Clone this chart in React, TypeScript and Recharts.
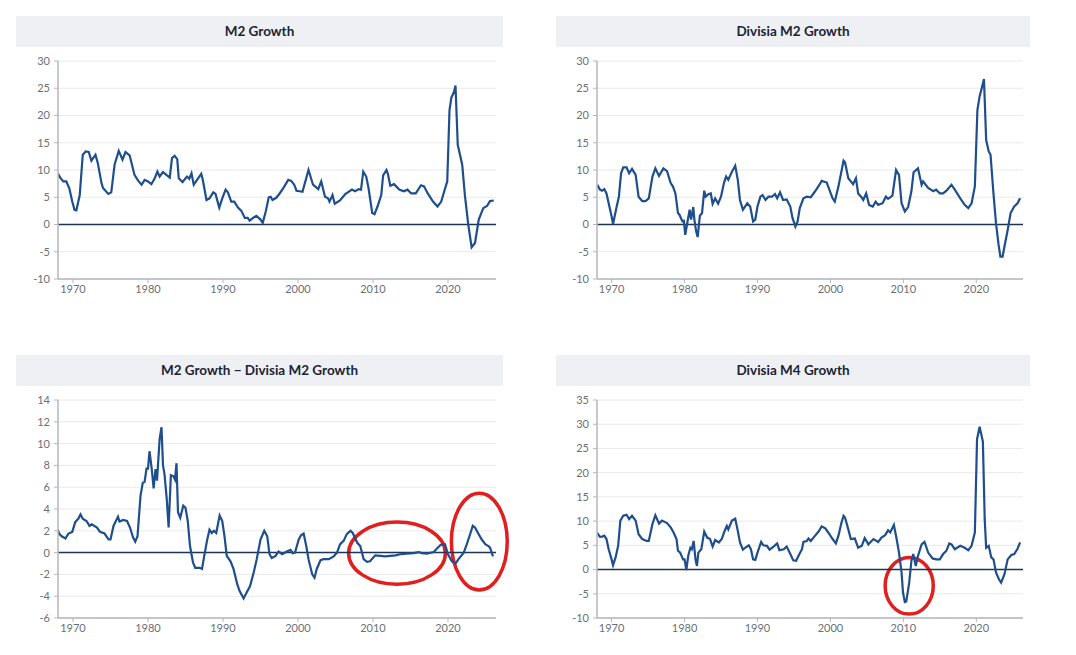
// Four small panels: M2 vs Divisia money growth, with hand-drawn style red circles.

import {
  LineChart,
  Line,
  XAxis,
  YAxis,
  CartesianGrid,
  ReferenceLine,
  ReferenceArea,
} from "recharts";

const decadeTicks = [1970, 1980, 1990, 2000, 2010, 2020];
const growthTicks = [-10, -5, 0, 5, 10, 15, 20, 25, 30];
const spreadTicks = [-6, -4, -2, 0, 2, 4, 6, 8, 10, 12, 14];
const m4Ticks = [-10, -5, 0, 5, 10, 15, 20, 25, 30, 35];

const m2Years = [
  1968.0, 1968.3, 1968.7, 1969.1, 1969.5, 1969.9, 1970.2, 1970.45, 1970.9, 1971.3,
  1971.7, 1972.1, 1972.45, 1973.0, 1973.3, 1973.8, 1974.0, 1974.7, 1975.1, 1975.55,
  1976.1, 1976.6, 1977.0, 1977.55, 1978.2, 1978.7, 1979.15, 1979.55, 1980.0, 1980.45,
  1980.9, 1981.25, 1981.55, 1982.0, 1982.9, 1983.2, 1983.55, 1983.9, 1984.1, 1984.6,
  1985.2, 1985.5, 1985.8, 1986.1, 1986.7, 1987.1, 1987.3, 1987.8, 1988.2, 1988.7,
  1989.0, 1989.5, 1989.9, 1990.35, 1990.65, 1991.1, 1991.5, 1992.0, 1992.45, 1992.9,
  1993.3, 1993.55, 1994.0, 1994.45, 1995.0, 1995.3, 1995.7, 1996.1, 1996.35, 1996.6,
  1997.1, 1997.5, 1998.0, 1998.7, 1999.1, 1999.5, 1999.8, 2000.2, 2000.6, 2001.4,
  2002.0, 2002.7, 2003.1, 2003.6, 2004.0, 2004.2, 2004.6, 2004.9, 2005.6, 2006.3,
  2007.2, 2007.6, 2008.1, 2008.4, 2008.7, 2009.1, 2009.4, 2009.9, 2010.2, 2010.6,
  2011.1, 2011.35, 2011.8, 2012.0, 2012.3, 2012.8, 2013.5, 2014.1, 2014.6, 2015.1,
  2015.7, 2016.4, 2016.8, 2017.3, 2018.0, 2018.6, 2019.1, 2019.5, 2019.9, 2020.2,
  2020.45, 2020.8, 2021.0, 2021.3, 2021.6, 2021.9, 2022.25, 2022.7, 2023.15, 2023.6,
  2024.1, 2024.7, 2025.2, 2025.6, 2026.1,
];
const m2Values = [
  9.3, 8.6, 7.9, 7.9, 6.7, 4.2, 2.7, 2.6, 5.4, 12.8,
  13.4, 13.3, 11.7, 12.8, 11.3, 7.6, 6.7, 5.6, 5.9, 11,
  13.5, 11.9, 13.3, 12.7, 9.1, 8.0, 7.3, 8.2, 7.9, 7.4,
  8.5, 9.7, 8.8, 9.6, 8.6, 12.2, 12.6, 12, 8.5, 7.8,
  8.8, 8.4, 9.4, 7.3, 8.5, 9.3, 8.2, 4.5, 4.8, 5.9,
  5.6, 3.1, 4.8, 6.4, 5.9, 4.2, 4.2, 3.1, 2.5, 1.2,
  1.2, 0.7, 1.2, 1.6, 0.9, 0.3, 2.4, 5.0, 5.1, 4.5,
  4.9, 5.6, 6.6, 8.2, 8.0, 7.3, 6.2, 6.1, 6.0, 10,
  7.3, 6.5, 7.9, 5.1, 4.8, 4.2, 5.4, 3.8, 4.4, 5.6,
  6.4, 6.1, 6.5, 6.4, 9.7, 8.8, 6.7, 2.1, 1.9, 3.3,
  5.4, 9.0, 10, 9.2, 7.1, 7.4, 6.4, 6.1, 6.4, 5.7,
  5.7, 7.2, 7.0, 5.7, 4.2, 3.3, 4.2, 6.1, 7.9, 21,
  23.3, 24.3, 25.5, 14.6, 12.8, 10.9, 5.4, 0, -4.2, -3.4,
  0.9, 3.0, 3.4, 4.3, 4.4,
];

const divisiaM2Years = [
  1968.04, 1968.4, 1968.7, 1969.0, 1969.3, 1969.6, 1970.0, 1970.2, 1970.7, 1971.0,
  1971.3, 1971.6, 1972.05, 1972.4, 1972.8, 1973.3, 1973.7, 1974.2, 1974.65, 1975.1,
  1975.6, 1976.0, 1976.5, 1977.1, 1977.6, 1978.1, 1978.4, 1978.75, 1979.1, 1979.3,
  1979.7, 1979.9, 1980.1, 1980.35, 1980.7, 1980.9, 1981.2, 1981.35, 1981.6, 1981.8,
  1982.1, 1982.4, 1982.7, 1982.9, 1983.3, 1983.6, 1983.85, 1984.2, 1984.6, 1985.0,
  1985.4, 1985.7, 1986.0, 1986.5, 1986.95, 1987.3, 1987.6, 1988.0, 1988.3, 1988.6,
  1989.0, 1989.4, 1989.7, 1990.0, 1990.4, 1990.7, 1991.1, 1991.5, 1992.0, 1992.4,
  1992.7, 1993.1, 1993.5, 1994.0, 1994.5, 1994.8, 1995.2, 1995.5, 1995.8, 1996.3,
  1996.75, 1997.3, 1997.9, 1998.5, 1998.8, 1999.5, 1999.85, 2000.3, 2000.6, 2001.1,
  2001.8, 2002.0, 2002.45, 2002.8, 2003.1, 2003.5, 2003.8, 2004.2, 2004.5, 2004.9,
  2005.3, 2005.8, 2006.2, 2006.55, 2007.15, 2007.6, 2007.9, 2008.5, 2009.0, 2009.4,
  2009.75, 2010.2, 2010.65, 2011.1, 2011.4, 2012.0, 2012.5, 2012.7, 2013.4, 2014.1,
  2014.5, 2015.0, 2015.45, 2015.9, 2016.6, 2017.05, 2017.8, 2018.4, 2018.9, 2019.35,
  2019.8, 2020.15, 2020.45, 2020.8, 2021.05, 2021.35, 2021.7, 2021.95, 2022.35, 2022.7,
  2023.05, 2023.3, 2023.6, 2023.95, 2024.3, 2024.7, 2025.2, 2025.65, 2026.0,
];
const divisiaM2Values = [
  7.3, 6.4, 6.2, 6.5, 5.7, 3.9, 1.5, 0.1, 3.3, 5.1,
  9.4, 10.5, 10.5, 9.4, 10.2, 9.1, 5.1, 4.3, 4.3, 4.8,
  8.8, 10.3, 8.9, 10.3, 9.8, 7.6, 7.0, 5.7, 2.1, 1.8,
  0.6, 0.7, -1.9, 0.1, 2.7, 0.9, 3.2, 0.9, -1.3, -2.3,
  1.6, 2.1, 6.2, 5.1, 5.6, 5.7, 3.8, 4.8, 3.8, 5.1,
  7.6, 8.8, 8.2, 9.7, 10.8, 8.2, 4.5, 2.7, 3.3, 3.9,
  3.3, 0.55, 0.9, 3.3, 5.1, 5.4, 4.5, 5.1, 5.1, 5.6,
  4.8, 5.9, 4.5, 4.6, 3.3, 1.2, -0.4, 0.55, 3.0, 4.8,
  5.1, 5.0, 6.1, 7.3, 8.0, 7.7, 6.4, 4.8, 4.2, 7.0,
  11.7, 11.4, 8.5, 7.9, 7.4, 8.5, 5.7, 5.1, 4.5, 5.7,
  3.6, 3.3, 4.2, 3.6, 3.9, 5.1, 4.7, 5.3, 10.0, 9.1,
  3.9, 2.4, 3.2, 6.1, 9.6, 10.3, 7.3, 7.9, 6.7, 6.1,
  6.4, 5.7, 5.7, 6.2, 7.3, 6.4, 4.8, 3.6, 3.0, 3.9,
  7.0, 21, 23.5, 25.3, 26.7, 15.5, 13.4, 12.8, 5.7, 0.2,
  -3.7, -5.9, -5.9, -3.4, -1.0, 2.1, 3.3, 3.9, 4.8,
];

const spreadYears = [
  1967.95, 1968.2, 1968.5, 1969.0, 1969.4, 1969.9, 1970.3, 1970.7, 1971.0, 1971.3,
  1971.8, 1972.2, 1972.5, 1973.2, 1973.6, 1974.2, 1974.75, 1975.0, 1975.4, 1976.0,
  1976.2, 1976.7, 1977.2, 1977.6, 1978.0, 1978.3, 1978.6, 1979.0, 1979.3, 1979.55,
  1979.8, 1980.0, 1980.2, 1980.5, 1980.75, 1981.0, 1981.2, 1981.55, 1981.8, 1982.0,
  1982.2, 1982.5, 1982.75, 1983.05, 1983.4, 1983.6, 1983.8, 1984.0, 1984.3, 1984.7,
  1985.0, 1985.3, 1985.6, 1986.0, 1986.3, 1986.9, 1987.2, 1987.5, 1987.9, 1988.2,
  1988.5, 1988.8, 1989.1, 1989.55, 1989.9, 1990.2, 1990.5, 1991.0, 1991.4, 1991.9,
  1992.2, 1992.75, 1993.2, 1993.6, 1994.1, 1994.5, 1995.0, 1995.5, 1995.9, 1996.2,
  1996.5, 1997.0, 1997.4, 1997.9, 1998.5, 1999.0, 1999.3, 1999.6, 2000.1, 2000.4,
  2000.75, 2001.1, 2001.4, 2001.9, 2002.2, 2002.5, 2003.0, 2003.4, 2004.1, 2004.75,
  2005.2, 2005.6, 2006.1, 2006.5, 2007.0, 2007.3, 2007.9, 2008.3, 2008.75, 2009.2,
  2009.6, 2010.3, 2011.0, 2011.6, 2012.3, 2013.0, 2013.6, 2014.5, 2015.4, 2016.1,
  2016.5, 2017.2, 2018.1, 2018.5, 2019.0, 2019.3, 2019.6, 2020.0, 2020.5, 2021.0,
  2021.4, 2022.1, 2022.5, 2023.0, 2023.3, 2023.6, 2024.0, 2024.5, 2025.0, 2025.4,
  2025.6, 2026.0,
];
const spreadValues = [
  2.1, 1.7, 1.5, 1.3, 1.75, 1.9, 2.8, 3.1, 3.5, 3.1,
  2.9, 2.45, 2.6, 2.3, 1.9, 1.75, 1.2, 1.2, 2.45, 3.3,
  2.85, 3.0, 2.9, 2.3, 1.4, 1.0, 1.5, 5.2, 6.4, 6.5,
  7.7, 7.7, 9.3, 7.65, 5.9, 7.65, 6.6, 10.4, 11.5, 8.0,
  7.2, 4.9, 2.3, 7.1, 7.0, 6.7, 8.2, 3.7, 3.2, 4.3,
  4.1, 2.9, 0.6, -0.9, -1.4, -1.4, -1.5, -0.3, 1.2, 2.1,
  1.8, 2.0, 1.8, 3.4, 2.9, 1.5, -0.3, -0.8, -1.5, -2.9,
  -3.5, -4.2, -3.6, -3.1, -1.8, -0.6, 1.2, 2.0, 1.5, -0.15,
  -0.5, -0.3, 0.1, -0.15, 0.1, 0.25, -0.05, 0, 1.2, 1.6,
  1.75, 0.6, -0.6, -2.0, -2.3, -1.5, -0.7, -0.6, -0.6, -0.35,
  0, 0.75, 1.1, 1.7, 2.0, 1.8, 0.9, 0.6, -0.6, -0.85,
  -0.8, -0.25, -0.3, -0.35, -0.3, -0.25, -0.15, -0.1, -0.05, 0.05,
  -0.05, -0.1, 0.05, 0.35, 0.7, 0.75, 0.75, -0.15, -0.8, -1.0,
  -0.6, 0, 0.75, 1.8, 2.45, 2.3, 1.8, 1.2, 0.75, 0.6,
  0.45, -0.35,
];

const divisiaM4Years = [
  1968.0, 1968.4, 1968.7, 1969.0, 1969.3, 1969.6, 1970.0, 1970.2, 1970.55, 1970.9,
  1971.2, 1971.6, 1972.05, 1972.4, 1972.8, 1973.3, 1973.7, 1974.2, 1974.8, 1975.1,
  1975.6, 1976.0, 1976.5, 1976.9, 1977.6, 1978.1, 1978.5, 1978.9, 1979.1, 1979.4,
  1979.8, 1980.0, 1980.25, 1980.5, 1980.8, 1981.0, 1981.25, 1981.5, 1981.7, 1981.9,
  1982.3, 1982.7, 1983.1, 1983.5, 1983.85, 1984.2, 1984.7, 1985.1, 1985.45, 1985.8,
  1986.0, 1986.5, 1986.95, 1987.3, 1987.6, 1988.0, 1988.3, 1988.8, 1989.1, 1989.4,
  1989.7, 1990.0, 1990.5, 1990.8, 1991.3, 1991.65, 1992.2, 1992.7, 1993.0, 1993.6,
  1994.0, 1994.5, 1994.9, 1995.3, 1995.75, 1996.1, 1996.3, 1996.75, 1997.0, 1997.3,
  1997.9, 1998.35, 1998.8, 1999.3, 1999.7, 2000.3, 2000.75, 2001.1, 2001.5, 2001.8,
  2002.0, 2002.45, 2002.8, 2003.35, 2003.8, 2004.3, 2004.7, 2005.2, 2005.9, 2006.55,
  2007.0, 2007.5, 2007.9, 2008.2, 2008.7, 2009.05, 2009.4, 2009.75, 2009.95, 2010.2,
  2010.4, 2010.8, 2011.1, 2011.35, 2011.7, 2012.0, 2012.5, 2012.9, 2013.4, 2014.0,
  2014.5, 2015.0, 2015.45, 2015.9, 2016.3, 2016.6, 2017.05, 2017.8, 2018.4, 2018.9,
  2019.35, 2019.8, 2020.1, 2020.45, 2020.9, 2021.15, 2021.35, 2021.7, 2022.05, 2022.35,
  2022.7, 2023.1, 2023.4, 2023.85, 2024.3, 2024.8, 2025.2, 2025.65, 2026.0,
];
const divisiaM4Values = [
  7.65, 6.75, 6.8, 7.0, 6.3, 4.2, 2.1, 0.9, 2.5, 4.9,
  10.1, 11.1, 11.3, 10.4, 11.1, 10.1, 7.3, 6.3, 5.9, 5.9,
  9.4, 11.2, 9.5, 10.1, 9.6, 8.7, 7.65, 6.3, 3.9, 3.5,
  2.1, 2.1, -0.1, 2.8, 4.5, 4.2, 5.9, 2.1, 0.75, 3.5,
  4.2, 7.85, 6.6, 6.3, 4.75, 6.1, 5.6, 6.3, 7.8, 9.0,
  8.3, 10.1, 10.5, 8.0, 5.6, 4.1, 4.5, 5.0, 4.2, 2.1,
  2.0, 3.5, 5.7, 5.0, 4.9, 4.1, 4.75, 5.4, 4.0, 4.2,
  4.75, 3.2, 1.9, 1.8, 3.2, 4.2, 5.7, 5.9, 6.4, 5.9,
  7.0, 7.8, 8.9, 8.5, 7.65, 6.3, 5.4, 7.0, 9.6, 11.1,
  10.75, 8.3, 6.3, 6.4, 4.5, 4.9, 6.5, 5.2, 6.3, 5.7,
  6.6, 7.1, 8.1, 7.65, 9.2, 6.5, 3.5, -0.6, -4.75, -6.7,
  -6.6, -2.7, 1.8, 3.2, 0.75, 2.8, 5.2, 5.7, 3.5, 2.3,
  2.1, 2.1, 3.2, 3.9, 5.4, 5.2, 4.2, 4.9, 4.5, 4.0,
  4.9, 7.65, 26.9, 29.5, 26.4, 10.4, 4.5, 4.9, 2.5, 2.1,
  -0.6, -2.0, -2.7, -1.0, 2.1, 3.0, 3.2, 4.3, 5.6,
];

// red annotation circles, in data units: [x1, x2, y1, y2]
const spreadCircles = [
  [2006.75, 2019.65, -2.9, 2.8],
  [2020.45, 2027.9, -3.43, 5.45],
];
const m4Circles = [[2007.5, 2014.1, -9.2, 2.5]];

const LINE = "#1f4e8d";
const FONT = "Lato, 'Open Sans', sans-serif";

function toPoints(years: number[], values: number[]) {
  return years.map((year, i) => ({ year, value: values[i] }));
}

function RedEllipse(props: any) {
  const { x, y, width, height } = props;
  return (
    <ellipse
      cx={x + width / 2}
      cy={y + height / 2}
      rx={Math.abs(width) / 2}
      ry={Math.abs(height) / 2}
      fill="none"
      stroke="#e01f1f"
      strokeWidth={3.5}
    />
  );
}

interface PanelProps {
  title: string;
  points: { year: number; value: number }[];
  yTicks: number[];
  circles?: number[][];
  left: number;
  top: number;
  barWidth: number;
  axisWidth: number;
  rightMargin: number;
}

function Panel({ title, points, yTicks, circles = [], left, top, barWidth, axisWidth, rightMargin }: PanelProps) {
  const tick = { fontSize: 11, fill: "#6b6f76", fontFamily: FONT };
  return (
    <>
      <div
        style={{
          position: "absolute",
          left,
          top,
          width: barWidth,
          height: 31,
          background: "#eef0f3",
          color: "#1b2435",
          fontFamily: FONT,
          fontWeight: 700,
          fontSize: 13.5,
          lineHeight: "31px",
          textAlign: "center",
        }}
      >
        {title}
      </div>
      <div style={{ position: "absolute", left, top: top + 31 }}>
        <LineChart
          width={510}
          height={255}
          data={points}
          margin={{ top: 14, right: rightMargin, bottom: 3, left: 0 }}
        >
          <CartesianGrid vertical={false} stroke="#e9eaec" />
          <XAxis
            dataKey="year"
            type="number"
            domain={[1968, 2026.4]}
            ticks={decadeTicks}
            allowDataOverflow
            tick={tick}
            tickSize={4}
            tickMargin={2}
            height={20}
            axisLine={{ stroke: "#b3b6bb", strokeWidth: 1.5 }}
            tickLine={{ stroke: "#b3b6bb" }}
          />
          <YAxis
            type="number"
            domain={[yTicks[0], yTicks[yTicks.length - 1]]}
            ticks={yTicks}
            interval={0}
            width={axisWidth}
            tick={tick}
            tickSize={4}
            tickMargin={4}
            axisLine={{ stroke: "#b3b6bb", strokeWidth: 1.5 }}
            tickLine={{ stroke: "#b3b6bb" }}
          />
          <ReferenceLine y={0} stroke="#1d3452" strokeWidth={1.5} />
          <Line
            type="linear"
            dataKey="value"
            stroke={LINE}
            strokeWidth={2.2}
            dot={false}
            isAnimationActive={false}
          />
          {circles.map((c, i) => (
            <ReferenceArea
              key={i}
              x1={c[0]}
              x2={c[1]}
              y1={c[2]}
              y2={c[3]}
              ifOverflow="visible"
              shape={<RedEllipse />}
            />
          ))}
        </LineChart>
      </div>
    </>
  );
}

export default function App() {
  return (
    <div
      style={{
        position: "absolute",
        left: 0,
        top: 0,
        width: 1076,
        height: 655,
        background: "#fff",
        overflow: "hidden",
      }}
    >
      <Panel
        title="M2 Growth"
        points={toPoints(m2Years, m2Values)}
        yTicks={growthTicks}
        left={16}
        top={16}
        barWidth={487}
        axisWidth={42}
        rightMargin={30}
      />
      <Panel
        title="Divisia M2 Growth"
        points={toPoints(divisiaM2Years, divisiaM2Values)}
        yTicks={growthTicks}
        left={556}
        top={16}
        barWidth={474}
        axisWidth={41}
        rightMargin={43}
      />
      <Panel
        title="M2 Growth − Divisia M2 Growth"
        points={toPoints(spreadYears, spreadValues)}
        yTicks={spreadTicks}
        circles={spreadCircles}
        left={16}
        top={355}
        barWidth={487}
        axisWidth={42}
        rightMargin={30}
      />
      <Panel
        title="Divisia M4 Growth"
        points={toPoints(divisiaM4Years, divisiaM4Values)}
        yTicks={m4Ticks}
        circles={m4Circles}
        left={556}
        top={355}
        barWidth={474}
        axisWidth={41}
        rightMargin={43}
      />
    </div>
  );
}
